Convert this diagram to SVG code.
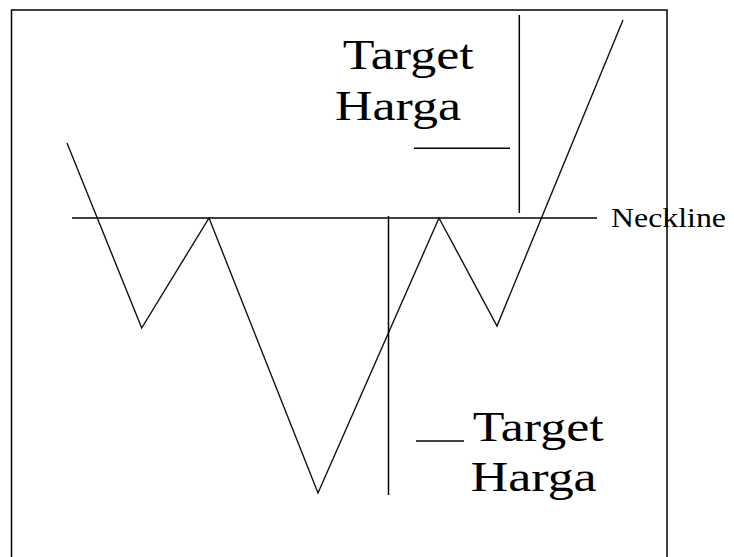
<svg xmlns="http://www.w3.org/2000/svg" width="734" height="557" viewBox="0 0 734 557">
<style>
.ln{stroke:#000;fill:none;stroke-width:1.5}
.zz{stroke:#111;fill:none;stroke-width:1.4;stroke-linejoin:miter}
.big{font-family:"Liberation Serif","Times New Roman",serif;font-size:43px;fill:#000}
.small{font-family:"Liberation Serif","Times New Roman",serif;font-size:27px;fill:#000}
</style>
<rect width="734" height="557" fill="#fff"/>
<g id="frame"><rect x="11.5" y="10" width="655.5" height="560" class="ln" stroke-width="2"/></g>
<g id="connectors">
<line id="neckline-line" x1="72" y1="218" x2="597" y2="218" class="ln"/>
<polyline id="price" class="zz" points="67,143 141.7,328 209,218 318,493 439,218 497,326 623,20"/>
<line id="target-up" x1="519.3" y1="15" x2="519.3" y2="213" class="ln"/>
<line id="target-up-tick" x1="414" y1="148.3" x2="510" y2="148.3" class="ln"/>
<line id="target-down" x1="388.5" y1="216" x2="388.5" y2="495" class="ln"/>
<line id="target-down-tick" x1="416" y1="441" x2="464" y2="441" class="ln"/>
</g>
<g id="label-top">
<text class="big" x="342.7" y="69.3" textLength="131" lengthAdjust="spacingAndGlyphs">Target</text>
<text class="big" x="335" y="120" textLength="126" lengthAdjust="spacingAndGlyphs">Harga</text>
</g>
<g id="label-bottom">
<text class="big" x="472.7" y="440.7" textLength="131" lengthAdjust="spacingAndGlyphs">Target</text>
<text class="big" x="470.7" y="491" textLength="126" lengthAdjust="spacingAndGlyphs">Harga</text>
</g>
<g id="label-neckline">
<text class="small" x="611" y="227.3" textLength="115" lengthAdjust="spacingAndGlyphs">Neckline</text>
</g>
</svg>
